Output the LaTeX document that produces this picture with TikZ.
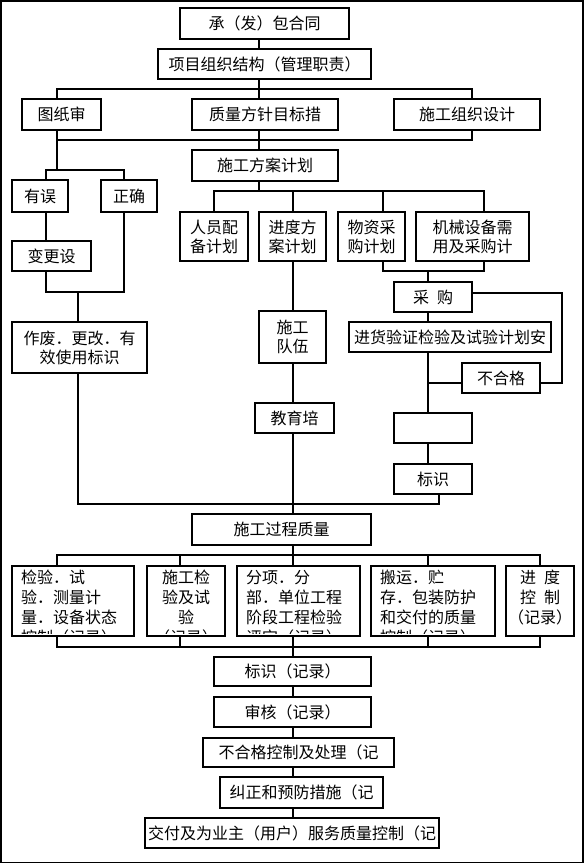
\documentclass[tikz,border=0pt]{standalone}
\usepackage{fontspec}
\setmainfont{Noto Sans CJK SC}

\begin{document}
\begin{tikzpicture}[
  x=1pt, y=-1pt,
  font=\fontsize{16}{19}\selectfont,
  line width=1.1pt,
  box/.style={draw, inner sep=0pt, align=center},
  cell/.style={inner sep=0pt, anchor=north west, align=left, font=\fontsize{16}{20}\selectfont},
  frame/.style={line width=1.6pt}
]
\useasboundingbox (0,0) rectangle (584,864);
\draw[frame] (1.2,1.2) rectangle (582.8,862.6);

% columns and rows of the connector grid
\coordinate (cW) at (46,0);
\coordinate (cL) at (57,0);
\coordinate (cM) at (78,0);
\coordinate (cC) at (124,0);
\coordinate (cF) at (180,0);
\coordinate (cS) at (259,0);
\coordinate (cT) at (293,0);
\coordinate (cP) at (383,0);
\coordinate (cB) at (428,0);
\coordinate (cI) at (439,0);
\coordinate (cR) at (472,0);
\coordinate (cE) at (484,0);
\coordinate (cQ) at (540,0);
\coordinate (cX) at (562,0);
\coordinate (r1) at (0,89);
\coordinate (r2) at (0,140);
\coordinate (r3) at (0,170);
\coordinate (r4) at (0,292);
\coordinate (r5) at (0,191);
\coordinate (r6) at (0,504);
\coordinate (r7) at (0,271);
\coordinate (r8) at (0,293);
\coordinate (r9) at (0,383);
\coordinate (r10) at (0,555);
\coordinate (r11) at (0,647);

\node[box, minimum width=169pt, minimum height=31pt] (contract) at (264.5,23.5) {承（发）包合同};
\node[box, minimum width=213pt, minimum height=30pt] (org) at (264.5,64) {项目组织结构（管理职责）};
\node[box, minimum width=79pt, minimum height=31pt] (drawing) at (61.5,114.5) {图纸审};
\node[box, minimum width=146pt, minimum height=31pt] (policy) at (265,114.5) {质量方针目标措};
\node[box, minimum width=146pt, minimum height=31pt] (design) at (467,114.5) {施工组织设计};
\node[box, minimum width=146pt, minimum height=31pt] (plan) at (265,165.5) {施工方案计划};

\node[box, minimum width=56pt, minimum height=32pt] (wrong) at (40,196) {有误};
\node[box, minimum width=56pt, minimum height=32pt] (right) at (129,196) {正确};
\node[box, minimum width=79pt, minimum height=30pt] (change) at (51.5,256) {变更设};
\node[box, minimum width=135pt, minimum height=51pt] (mark) at (79.5,347.5) {作废．更改．有\\效使用标识};

\node[box, minimum width=68pt, minimum height=49pt] (staff) at (214,236.5) {人员配\\备计划};
\node[box, minimum width=67pt, minimum height=49pt] (sched) at (292.5,236.5) {进度方\\案计划};
\node[box, minimum width=67pt, minimum height=49pt] (matl) at (371.5,236.5) {物资采\\购计划};
\node[box, minimum width=113pt, minimum height=49pt] (equip) at (472.5,236.5) {机械设备需\\用及采购计};

\node[box, minimum width=78pt, minimum height=30pt] (buy) at (433,297) {采\hspace{8pt}购};
\node[box, minimum width=202pt, minimum height=30pt] (inspect) at (450,337) {进货验证检验及试验计划安};
\node[box, minimum width=78pt, minimum height=30pt] (reject) at (501,378) {不合格};
\node[box, minimum width=78pt, minimum height=30pt] (blank) at (433,428) {};
\node[box, minimum width=78pt, minimum height=30pt] (ident) at (433,479) {标识};

\node[box, minimum width=67pt, minimum height=52pt] (team) at (292.5,337) {施工\\队伍};
\node[box, minimum width=79pt, minimum height=30pt] (train) at (294.5,418) {教育培};
\node[box, minimum width=179pt, minimum height=31pt] (process) at (281.5,529.5) {施工过程质量};

\node[box, minimum width=122pt, minimum height=70pt] (testbox) at (73,601) {};
\node[box, minimum width=78pt, minimum height=70pt] (inspbox) at (186,601) {};
\node[box, minimum width=123pt, minimum height=70pt] (evalbox) at (298.5,601) {};
\node[box, minimum width=124pt, minimum height=70pt] (handbox) at (433,601) {};
\node[box, minimum width=68pt, minimum height=70pt] (progbox) at (540,601) {};

\begin{scope}
  \clip ([yshift=3pt]testbox.south west) rectangle (testbox.north east);
  \node[cell] (testtxt) at ([xshift=9pt,yshift=-4pt]testbox.north west) {检验．试\\验．测量计\\量．设备状态\\控制（记录）};
\end{scope}
\begin{scope}
  \clip ([yshift=3pt]inspbox.south west) rectangle (inspbox.north east);
  \node[cell, anchor=north, align=center] (insptxt) at ([yshift=-4pt]inspbox.north) {施工检\\验及试\\验\\（记录）};
\end{scope}
\begin{scope}
  \clip ([yshift=3pt]evalbox.south west) rectangle (evalbox.north east);
  \node[cell] (evaltxt) at ([xshift=9pt,yshift=-4pt]evalbox.north west) {分项．分\\部．单位工程\\阶段工程检验\\评定（记录）};
\end{scope}
\begin{scope}
  \clip ([yshift=3pt]handbox.south west) rectangle (handbox.north east);
  \node[cell] (handtxt) at ([xshift=9pt,yshift=-4pt]handbox.north west) {搬运．贮\\存．包装防护\\和交付的质量\\控制（记录）};
\end{scope}
\node[cell, anchor=north, align=center] (progtxt) at ([yshift=-4pt]progbox.north) {进\hspace{8pt}度\\控\hspace{8pt}制\\（记录）};

\node[box, minimum width=157pt, minimum height=29pt] (label) at (292.5,671.5) {标识（记录）};
\node[box, minimum width=157pt, minimum height=30pt] (audit) at (292.5,712) {审核（记录）};
\node[box, minimum width=191pt, minimum height=29pt] (ncr) at (298.5,752.5) {不合格控制及处理（记};
\node[box, minimum width=163pt, minimum height=31pt] (capa) at (301.5,792.5) {纠正和预防措施（记};
\node[box, minimum width=294pt, minimum height=30pt] (deliver) at (292,833) {交付及为业主（用户）服务质量控制（记};

% upper tree
\draw (contract.south -| cS) -- (org.north -| cS);
\draw (org.south -| cS) -- (policy.north -| cS);
\draw (drawing.north -| cL) |- (r1 -| cR) -- (design.north -| cR);
\draw (drawing.south -| cL) |- (r2 -| cR) -- (design.south -| cR);
\draw (policy.south -| cS) -- (plan.north -| cS);

% drawing review branch
\draw (r2 -| cL) -- (r3 -| cL);
\draw (wrong.north -| cW) |- (r3 -| cC) -- (right.north -| cC);
\draw (wrong.south -| cW) -- (change.north -| cW);
\draw (change.south -| cW) |- (r4 -| cC) -- (right.south -| cC);
\draw (r4 -| cM) -- (mark.north -| cM);
\draw (mark.south -| cM) |- (r6 -| cI) -- (ident.south -| cI);

% plans
\draw (plan.south -| cS) -- (r5 -| cS);
\draw (staff.north) |- (r5 -| cE) -- (equip.north -| cE);
\draw (sched.north -| cT) -- (r5 -| cT);
\draw (matl.north -| cP) -- (r5 -| cP);
\draw (matl.south -| cP) |- (r7 -| cE) -- (equip.south -| cE);
\draw (r7 -| cB) -- (buy.north -| cB);
\draw (buy.south -| cB) -- (inspect.north -| cB);
\draw (inspect.south -| cB) -- (blank.north -| cB);
\draw (blank.south -| cB) -- (ident.north -| cB);
\draw (buy.east |- r8) -| (cX |- r9) -- (reject.east |- r9);
\draw (cB |- r9) -- (reject.west |- r9);

% spine
\draw (sched.south -| cT) -- (team.north -| cT);
\draw (team.south -| cT) -- (train.north -| cT);
\draw (train.south -| cT) -- (process.north -| cT);
\draw (process.south -| cT) -- (r10 -| cT);
\draw (testbox.north -| cL) |- (r10 -| cQ) -- (progbox.north -| cQ);
\draw (inspbox.north -| cF) -- (r10 -| cF);
\draw (evalbox.north -| cT) -- (r10 -| cT);
\draw (handbox.north -| cB) -- (r10 -| cB);
\draw (testbox.south -| cL) |- (r11 -| cQ) -- (progbox.south -| cQ);
\draw (inspbox.south -| cF) -- (r11 -| cF);
\draw (evalbox.south -| cT) -- (r11 -| cT);
\draw (handbox.south -| cB) -- (r11 -| cB);
\draw (r11 -| cT) -- (label.north -| cT);
\draw (label.south -| cT) -- (audit.north -| cT);
\draw (audit.south -| cT) -- (ncr.north -| cT);
\draw (ncr.south -| cT) -- (capa.north -| cT);
\draw (capa.south -| cT) -- (deliver.north -| cT);

\end{tikzpicture}
\end{document}
